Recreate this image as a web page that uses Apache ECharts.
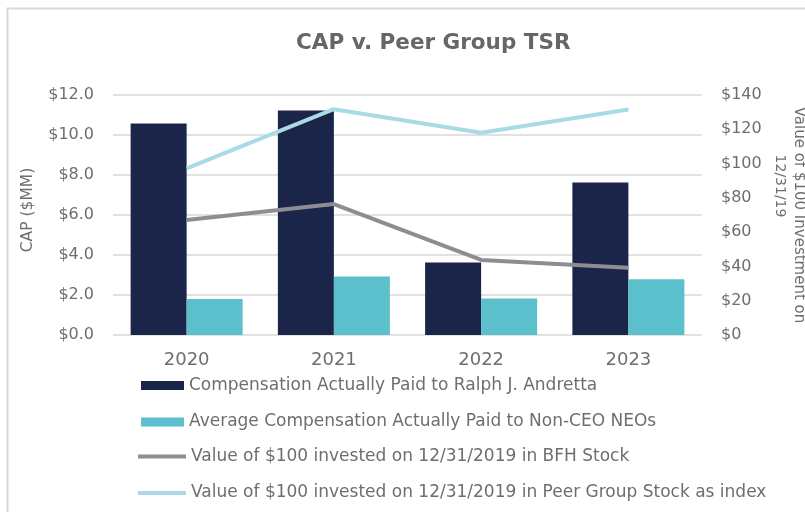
<!DOCTYPE html>
<html>
<head>
<meta charset="utf-8">
<script src="https://cdn.jsdelivr.net/npm/echarts@6/dist/echarts.min.js"></script>
<style>
  html, body { margin: 0; padding: 0; background: #fff; }
  #myChart { width: 805px; height: 512px; }
</style>
</head>
<body>
<div id="myChart"></div>
<script>
  var years = ['2020', '2021', '2022', '2023']
  var capCeo = [10.57, 11.23, 3.62, 7.62]
  var capNeo = [1.80, 2.92, 1.83, 2.79]
  var bfhTsr = [67.1, 76.4, 43.8, 39.3]
  var peerTsr = [97.2, 131.7, 118.0, 131.5]
  var leftTicks = [0, 2, 4, 6, 8, 10, 12]
  var rightTicks = [0, 20, 40, 60, 80, 100, 120, 140]

  var names = [
    'Compensation Actually Paid to Ralph J. Andretta',
    'Average Compensation Actually Paid to Non-CEO NEOs',
    'Value of $100 invested on 12/31/2019 in BFH Stock',
    'Value of $100 invested on 12/31/2019 in Peer Group Stock as index'
  ]

  var font = 'DejaVu Sans'
  var grey = '#6e6e6e'
  var legendText = { fontSize: 17, color: grey, lineHeight: 16, fontFamily: font }

  var option1 = {
    animation: false,
    textStyle: { fontFamily: font },
    title: {
      text: 'CAP v. Peer Group TSR',
      left: 291,
      top: 27,
      textStyle: { fontSize: 21.5, fontWeight: 'bold', color: '#666', fontFamily: font }
    },
    graphic: [
      {
        type: 'polyline',
        shape: { points: [[7.5, 512], [7.5, 8.5], [805, 8.5]] },
        style: { stroke: '#d9d9d9', lineWidth: 2, fill: null }
      },
      {
        type: 'text',
        x: 780,
        y: 186,
        rotation: -Math.PI / 2,
        style: { text: '12/31/19', fontSize: 14, fill: grey, fontFamily: font, align: 'center', verticalAlign: 'middle' }
      }
    ],
    legend: [
      {
        orient: 'vertical',
        left: 141,
        top: 377,
        padding: 0,
        itemWidth: 43,
        itemHeight: 9,
        itemGap: 19.5,
        textStyle: legendText,
        data: [
          { name: names[0], icon: 'rect' },
          { name: names[1], icon: 'rect' }
        ]
      },
      {
        orient: 'vertical',
        left: 138,
        top: 448,
        padding: 0,
        itemWidth: 48,
        itemHeight: 4,
        itemGap: 19.5,
        textStyle: legendText,
        data: [
          { name: names[2], icon: 'rect' },
          { name: names[3], icon: 'rect' }
        ]
      }
    ],
    grid: { left: 113, right: 103, top: 95, bottom: 177, outerBoundsMode: 'none' },
    xAxis: {
      type: 'category',
      data: years,
      axisLine: { show: false },
      axisTick: { show: false },
      axisLabel: { fontSize: 18, color: grey, margin: 16 }
    },
    yAxis: [
      {
        type: 'value',
        min: leftTicks[0],
        max: leftTicks[leftTicks.length - 1],
        interval: 2,
        name: 'CAP ($MM)',
        nameLocation: 'middle',
        nameGap: 77,
        nameTextStyle: { fontSize: 15.5, color: grey, padding: [0, 0, 0, 10] },
        axisLabel: { fontSize: 16, color: grey, margin: 19, formatter: function (v) { return '$' + v.toFixed(1) } },
        splitLine: { lineStyle: { color: '#e2e2e2', width: 2 } }
      },
      {
        type: 'value',
        min: rightTicks[0],
        max: rightTicks[rightTicks.length - 1],
        interval: 20,
        name: 'Value of $100 Investment on',
        nameLocation: 'middle',
        nameRotate: -90,
        nameGap: 89,
        nameTextStyle: { fontSize: 15, color: grey },
        axisLabel: { fontSize: 16, color: grey, margin: 19, formatter: function (v) { return '$' + v } },
        splitLine: { show: false }
      }
    ],
    series: [
      {
        name: names[0],
        type: 'bar',
        barWidth: 56,
        barGap: '0%',
        itemStyle: { color: '#1b2449' },
        data: capCeo
      },
      {
        name: names[1],
        type: 'bar',
        barWidth: 56,
        barGap: '0%',
        itemStyle: { color: '#5bbfcc' },
        data: capNeo
      },
      {
        name: names[2],
        type: 'line',
        yAxisIndex: 1,
        symbol: 'none',
        itemStyle: { color: '#8d8e92' },
        lineStyle: { color: '#8d8e92', width: 4 },
        data: bfhTsr
      },
      {
        name: names[3],
        type: 'line',
        yAxisIndex: 1,
        symbol: 'none',
        itemStyle: { color: '#a8dbe3' },
        lineStyle: { color: '#a8dbe3', width: 4 },
        data: peerTsr
      }
    ]
  }

  var myChart = echarts.init(document.getElementById('myChart'))
  myChart.setOption(option1)
</script>
</body>
</html>
